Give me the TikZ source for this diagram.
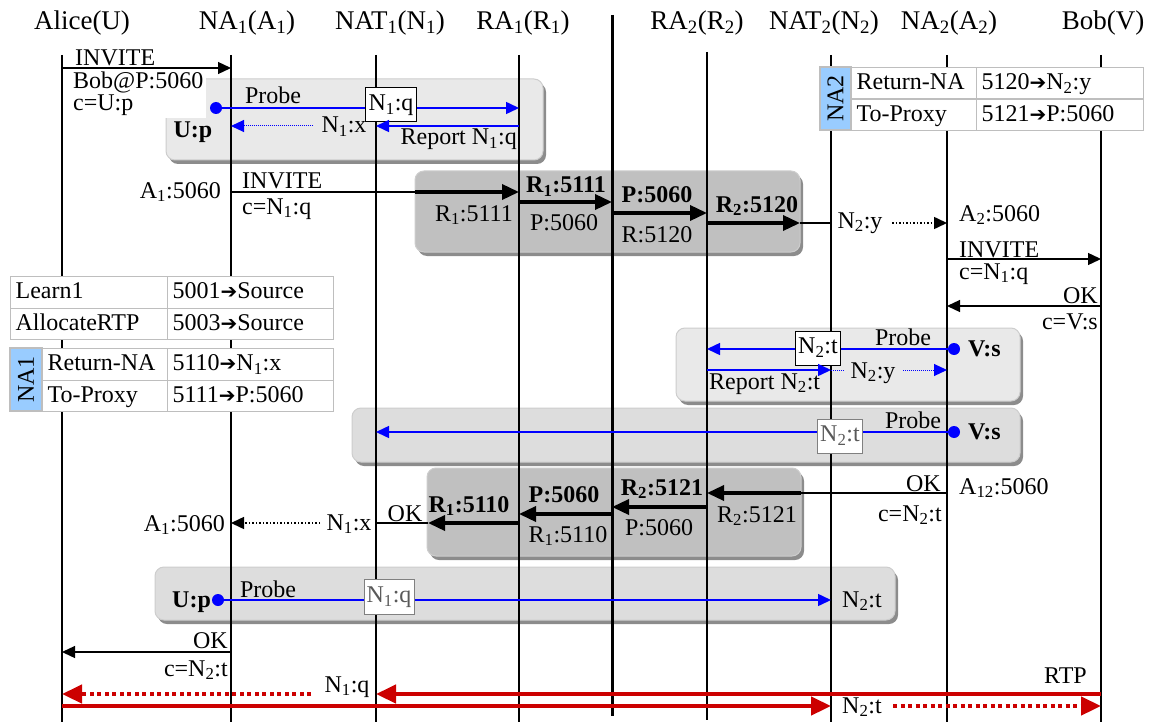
\documentclass[tikz,border=0pt]{standalone}
\usepackage{fontspec}
\setmainfont{Liberation Serif}
\newfontfamily\arrfont{DejaVu Sans}
\usetikzlibrary{arrows.meta}
\definecolor{pblue}{RGB}{0,0,255}
\definecolor{rtpred}{RGB}{204,0,0}
\definecolor{tblue}{RGB}{153,204,255}
\definecolor{gridc}{RGB}{190,190,190}
\definecolor{boxA}{RGB}{233,233,233}
\definecolor{boxB}{RGB}{221,221,221}
\definecolor{boxC}{RGB}{192,192,192}
\definecolor{shad}{RGB}{140,140,140}
\definecolor{boxedge}{RGB}{205,205,205}
\newcommand\rar{{\arrfont\fontsize{20}{20}\selectfont ➔}}
\newcommand\sub[1]{\textsubscript{#1}}
\newcommand\lnk[4]{\coordinate (#1-s) at (#2);\coordinate (#1-e) at (#3);\draw[#4] (#1-s) -- (#1-e);}
\newcommand\gbox[6]{%
  \fill[shad, rounded corners=9pt] (#2+3,#3+4) rectangle (#4+3,#5+4);
  \coordinate (#1-nw) at (#2,#3); \coordinate (#1-se) at (#4,#5);
  \filldraw[draw=boxedge, fill=#6, line width=1pt, rounded corners=9pt] (#1-nw) rectangle (#1-se);}
\begin{document}
\begin{tikzpicture}[x=1pt,y=-1pt,
  every node/.style={font=\fontsize{24}{22}\selectfont, inner sep=1pt},
  hdr/.style={font=\fontsize{27}{28}\selectfont, anchor=base},
  life/.style={line width=1.4pt},
  lifeR/.style={line width=2pt},
  lifeC/.style={line width=3pt},
  tip/.style={-{Triangle[length=13pt,width=12pt]}},
  msg/.style={line width=1.3pt, tip},
  thinline/.style={line width=1.3pt},
  fat/.style={line width=3.5pt, -{Triangle[length=17pt,width=15pt]}},
  bmsg/.style={pblue, line width=1.5pt, tip},
  bdot/.style={pblue, line width=1pt, dash pattern=on 1pt off 1pt, tip},
  bdotline/.style={pblue, line width=1pt, dash pattern=on 1pt off 1pt},
  kdot/.style={line width=1.5pt, dash pattern=on 1.5pt off 2pt, tip},
  rtp/.style={rtpred, line width=4.5pt, -{Triangle[length=20pt,width=18pt]}},
  rtpdot/.style={rtp, dash pattern=on 4pt off 3.5pt},
  dotn/.style={circle, fill=pblue, inner sep=0pt, minimum size=12pt},
  lbl/.style={draw, fill=white, line width=1pt, minimum width=51pt, minimum height=34pt, inner sep=2pt},
  glbl/.style={draw=gray, fill=white, text=black!65, line width=1pt, minimum width=45pt, minimum height=34pt, inner sep=2pt},
  cell/.style={draw=gridc, fill=white, line width=1.2pt, anchor=north west, minimum height=31.5pt, text height=17pt, text depth=4pt, inner xsep=5pt, inner ysep=0pt, align=left},
  bcell/.style={draw=gridc, fill=tblue, line width=1.2pt, rotate=90, minimum width=63pt, minimum height=32pt, inner sep=0pt},
  bl/.style={anchor=base}, bw/.style={anchor=base west}, be/.style={anchor=base east}
]
\useasboundingbox (0,0) rectangle (1155,722);

% ---------- grey boxes ----------
\gbox{B1}{166}{79}{543}{160}{boxA}
\gbox{B2}{415}{171}{800}{252}{boxC}
\gbox{B3}{676}{328}{1020}{401}{boxA}
\gbox{B4}{352}{408}{1020}{462}{boxB}
\gbox{B5}{427}{468}{801}{556}{boxC}
\gbox{B6}{155}{567}{895}{620}{boxB}

% white text block of first INVITE
\node[fill=white, align=left, anchor=north west, inner xsep=3pt, inner ysep=2pt] (inv1b) at (70,70) {Bob@P:5060\\c=U:p};

% ---------- headers ----------
\node[hdr] (hU)  at (82,30)   {Alice(U)};
\node[hdr] (hA1) at (247,30)  {NA\sub1(A\sub1)};
\node[hdr] (hN1) at (390,30)  {NAT\sub1(N\sub1)};
\node[hdr] (hR1) at (523,30)  {RA\sub1(R\sub1)};
\node[hdr] (hR2) at (697,30)  {RA\sub2(R\sub2)};
\node[hdr] (hN2) at (824,30)  {NAT\sub2(N\sub2)};
\node[hdr] (hA2) at (949,30)  {NA\sub2(A\sub2)};
\node[hdr] (hV)  at (1103,30) {Bob(V)};

% ---------- lifelines ----------
\lnk{LU}{62,55}{62,722}{life}
\lnk{LA1}{231,55}{231,722}{life}
\lnk{LN1}{376,55}{376,722}{life}
\lnk{LR1}{519,55}{519,722}{lifeR}
\lnk{LC}{612,15}{612,716}{lifeC}
\lnk{LR2}{707,52}{707,720}{lifeR}
\lnk{LN2}{831,55}{831,722}{life}
\lnk{LA2}{947,55}{947,722}{life}
\lnk{LV}{1101,55}{1101,722}{life}

% ---------- tables ----------
\node[cell, text width=147pt] (T11) at (10,276) {Learn1};
\node[cell, text width=156pt] (T12) at (167,276) {5001\rar Source};
\node[cell, text width=147pt] (T21) at (10,307.5) {AllocateRTP};
\node[cell, text width=156pt] (T22) at (167,307.5) {5003\rar Source};

\node[bcell] (NA1c) at (26,379.5) {NA1};
\node[cell, text width=115pt] (U11) at (42,348) {Return-NA};
\node[cell, text width=156pt] (U12) at (167,348) {5110\rar N\sub1:x};
\node[cell, text width=115pt] (U21) at (42,379.5) {To-Proxy};
\node[cell, text width=156pt] (U22) at (167,379.5) {5111\rar P:5060};

\node[bcell, minimum height=31pt] (NA2c) at (835.5,98.5) {NA2};
\node[cell, text width=115pt] (V11) at (851,67) {Return-NA};
\node[cell, text width=157pt] (V12) at (976,67) {5120\rar N\sub2:y};
\node[cell, text width=115pt] (V21) at (851,98.5) {To-Proxy};
\node[cell, text width=157pt] (V22) at (976,98.5) {5121\rar P:5060};

% ---------- row 1: INVITE Alice -> NA1 ----------
\lnk{m1}{62,68}{231,68}{msg}
\node[bw] (m1t) at (74,66) {INVITE};

% box 1: probe
\node[dotn] (d1) at (216,108) {};
\coordinate (p1e) at (519,108);
\draw[bmsg] (d1) -- (p1e);
\node[bl] (pr1) at (273,104) {Probe};
\node[lbl] (nq1) at (391,105) {N\sub1:q};
\lnk{r1}{519,126}{376,126}{bmsg}
\node[be] (rep1) at (518,145) {Report N\sub1:q};
\node[bl] (nx1) at (344,133) {N\sub1:x};
\lnk{x1}{313,126}{231,126}{bdot}
\node[bl] (up1) at (193,138) {\textbf{U:p}};

% ---------- row 2: INVITE NA1 -> RA1 -> ... ----------
\node[be] (a1l) at (222,198) {A\sub1:5060};
\lnk{i2}{231,192}{415,192}{thinline}
\lnk{i2f}{415,192}{519,192}{fat}
\node[bw] (i2t) at (241,189) {INVITE};
\node[bw] (i2c) at (241,214) {c=N\sub1:q};

\node[be] (b2a) at (514,221) {R\sub1:5111};
\node[bl] (b2b) at (566,193) {\textbf{R\sub1:5111}};
\lnk{f2a}{519,202}{612,202}{fat}
\node[bl] (b2c) at (564,230) {P:5060};
\node[bl] (b2d) at (657,202) {\textbf{P:5060}};
\lnk{f2b}{612,213}{707,213}{fat}
\node[bl] (b2e) at (657,242) {R:5120};
\node[bl] (b2f) at (757,212) {\textbf{R\sub2:5120}};
\lnk{f2c}{707,223}{800,223}{fat}
\lnk{f2d}{800,223}{831,223}{thinline}
\node[bl] (n2y) at (860,228) {N\sub2:y};
\lnk{f2e}{892,223}{947,223}{kdot}
\node[bw] (a2l) at (958,221) {A\sub2:5060};

% INVITE NA2 -> Bob, OK back
\lnk{i3}{947,259}{1101,259}{msg}
\node[bw] (i3t) at (958,257) {INVITE};
\node[bw] (i3c) at (958,279) {c=N\sub1:q};
\lnk{o3}{1101,306}{947,306}{msg}
\node[be] (o3t) at (1099,303) {OK};
\node[be] (o3c) at (1099,329) {c=V:s};

% ---------- box 3 ----------
\node[dotn] (d3) at (954,349) {};
\node[bw] (vs3) at (967,356) {\textbf{V:s}};
\coordinate (p3e) at (707,349);
\draw[bmsg] (d3) -- (p3e);
\node[bl] (pr3) at (903,345) {Probe};
\node[lbl, minimum width=45pt] (nt3) at (818,348) {N\sub2:t};
\lnk{r3}{707,370}{831,370}{bmsg}
\node[bw] (rep3) at (708,389) {Report N\sub2:t};
\lnk{r3d}{831,370}{845,370}{bdotline}
\node[bl] (ny3) at (873,378) {N\sub2:y};
\lnk{r3e}{903,370}{947,370}{bdot}

% ---------- box 4 ----------
\node[dotn] (d4) at (954,432) {};
\node[bw] (vs4) at (967,439) {\textbf{V:s}};
\coordinate (p4e) at (376,432);
\draw[bmsg] (d4) -- (p4e);
\node[bl] (pr4) at (913,428) {Probe};
\node[glbl] (nt4) at (840,436) {N\sub2:t};

% ---------- box 5: OK back ----------
\lnk{o5a}{947,493}{801,493}{thinline}
\lnk{o5b}{801,493}{707,493}{fat}
\node[be] (o5t) at (942,491) {OK};
\node[be] (o5c) at (943,521) {c=N\sub2:t};
\node[bw] (a12) at (958,494) {A\sub{12}:5060};
\node[bw] (b5a) at (716,522) {R\sub2:5121};
\node[bl] (b5b) at (662,495) {\textbf{R\sub2:5121}};
\lnk{f5a}{707,507}{612,507}{fat}
\node[bl] (b5c) at (659,535) {P:5060};
\node[bl] (b5d) at (564,502) {\textbf{P:5060}};
\lnk{f5b}{612,514}{519,514}{fat}
\node[bl] (b5e) at (568,542) {R\sub1:5110};
\node[bl] (b5f) at (469,512) {\textbf{R\sub1:5110}};
\lnk{f5c}{519,523}{428,523}{fat}
\lnk{f5d}{428,523}{376,523}{thinline}
\node[bl] (ok5) at (405,521) {OK};
\node[bl] (nx5) at (349,530) {N\sub1:x};
\lnk{f5e}{320,523}{231,523}{kdot}
\node[be] (a15) at (226,531) {A\sub1:5060};

% ---------- box 6 ----------
\node[bw] (up6) at (171,607) {\textbf{U:p}};
\node[dotn] (d6) at (218,600) {};
\coordinate (p6e) at (831,600);
\draw[bmsg] (d6) -- (p6e);
\node[bl] (pr6) at (268,597) {Probe};
\node[glbl, minimum width=50pt, minimum height=35pt] (nq6) at (389,597) {N\sub1:q};
\node[bw] (nt6) at (841,607) {N\sub2:t};

% ---------- OK to Alice ----------
\lnk{o7}{231,652}{62,652}{msg}
\node[be] (o7t) at (229,648) {OK};
\node[be] (o7c) at (229,676) {c=N\sub2:t};

% ---------- RTP ----------
\lnk{rt1}{1101,694}{376,694}{rtp}
\lnk{rt2}{311,694}{62,694}{rtpdot}
\node[bl] (rtq) at (347,692) {N\sub1:q};
\node[be] (rtl) at (1088,683) {RTP};
\lnk{rt3}{62,706}{831,706}{rtp}
\lnk{rt4}{893,706}{1101,706}{rtpdot}
\node[bw] (rtt) at (841,713) {N\sub2:t};
\end{tikzpicture}
\end{document}
